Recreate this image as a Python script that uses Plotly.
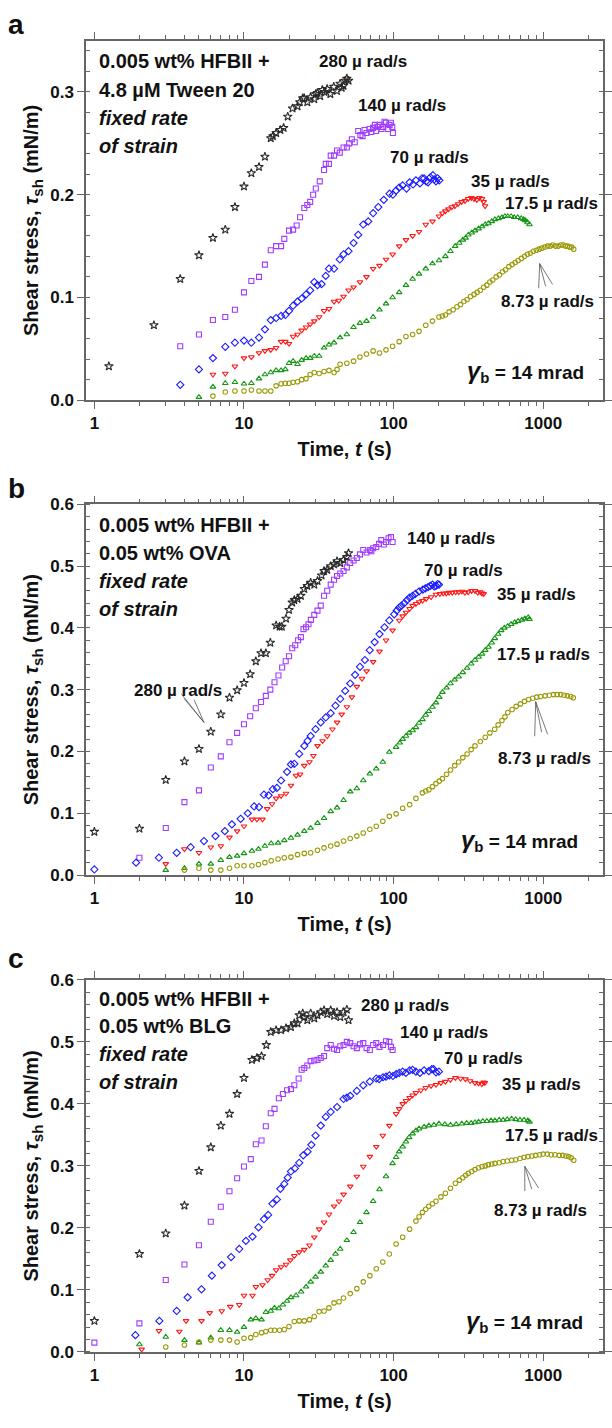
import plotly.graph_objects as go

# ---------------- data (time in s, shear stress in mN/m) ----------------
rates = ["280", "140", "70", "35", "17.5", "8.73"]

# Panel a: 0.005 wt% HFBII + 4.8 uM Tween 20
a280_t = [1.25, 2.5, 3.75, 5.0, 6.2, 7.5, 8.7, 10.0, 11.2, 12.6, 13.8, 15.1, 15.6, 16.4, 17.5, 18.4, 19.6, 21.1, 22.8, 23.6, 24.7, 25.3, 26.5, 27.9, 29.5, 30.2, 31, 32.3, 33.4, 34.5, 36, 37.8, 39.8, 41.8, 43.9, 45, 46.3, 47.5, 48.7, 50]
a280_y = [0.033, 0.073, 0.118, 0.141, 0.158, 0.166, 0.188, 0.208, 0.221, 0.227, 0.237, 0.255, 0.257, 0.260, 0.263, 0.265, 0.276, 0.284, 0.286, 0.290, 0.294, 0.294, 0.290, 0.295, 0.293, 0.298, 0.299, 0.296, 0.302, 0.300, 0.303, 0.298, 0.305, 0.301, 0.308, 0.304, 0.306, 0.311, 0.313, 0.311]
a140_t = [3.75, 5.0, 6.2, 7.5, 8.7, 10, 11.2, 12.6, 13.8, 15.1, 16.4, 17.7, 18.6, 20, 21.3, 22.5, 23.7, 25.3, 26.5, 27.7, 29, 30.2, 32.1, 34.3, 35.2, 37, 38, 40, 41.9, 43.7, 46.3, 48.7, 50.5, 52.6, 55, 58, 60, 62, 64, 65.9, 69, 71, 72.9, 75, 76.5, 78, 80.5, 83, 85, 87, 89, 92, 94, 96, 98, 99]
a140_y = [0.0525, 0.064, 0.078, 0.081, 0.088, 0.105, 0.116, 0.120, 0.132, 0.146, 0.150, 0.150, 0.157, 0.165, 0.166, 0.170, 0.178, 0.187, 0.190, 0.193, 0.200, 0.206, 0.213, 0.224, 0.230, 0.230, 0.238, 0.238, 0.243, 0.241, 0.246, 0.246, 0.250, 0.254, 0.251, 0.262, 0.258, 0.257, 0.263, 0.260, 0.264, 0.261, 0.265, 0.268, 0.262, 0.266, 0.268, 0.264, 0.266, 0.271, 0.270, 0.264, 0.268, 0.270, 0.266, 0.260]
a70_t = [3.75, 5.0, 6.2, 7.5, 8.7, 10, 11.2, 12.6, 13.8, 15.1, 16.4, 17.7, 18.9, 20, 21.3, 22.8, 24.3, 26, 27.7, 29.5, 31, 33, 35.2, 37, 40, 43.7, 46.3, 50, 54, 58, 62.7, 67.7, 73, 79, 86, 94, 99, 104, 109, 115, 122, 128, 135, 141, 150, 155, 160, 165, 170, 176, 183, 187, 192, 197, 202]
a70_y = [0.015, 0.030, 0.041, 0.052, 0.056, 0.058, 0.056, 0.061, 0.069, 0.078, 0.080, 0.082, 0.083, 0.087, 0.092, 0.096, 0.099, 0.103, 0.107, 0.115, 0.112, 0.113, 0.121, 0.128, 0.128, 0.137, 0.142, 0.145, 0.153, 0.161, 0.171, 0.174, 0.182, 0.188, 0.195, 0.201, 0.200, 0.204, 0.207, 0.209, 0.206, 0.212, 0.210, 0.214, 0.211, 0.216, 0.216, 0.213, 0.212, 0.217, 0.219, 0.215, 0.213, 0.216, 0.214]
a35_t = [6.2, 7.5, 8.7, 10, 11.2, 12.6, 13.8, 15.1, 16.4, 17.7, 18.9, 20, 21.3, 22.8, 24.3, 26, 27.7, 29.5, 31.8, 34.3, 37, 40, 43, 46.3, 50, 54, 59.6, 65.9, 73, 80.5, 89, 98.5, 109, 121, 134, 148, 164, 182, 201, 212, 222, 233, 245, 257, 270, 285, 300, 315, 331, 345, 360, 375, 390, 400, 409]
a35_y = [0.025, 0.026, 0.033, 0.041, 0.042, 0.046, 0.048, 0.049, 0.051, 0.057, 0.057, 0.055, 0.062, 0.064, 0.068, 0.071, 0.074, 0.077, 0.081, 0.087, 0.089, 0.096, 0.097, 0.101, 0.107, 0.110, 0.115, 0.120, 0.128, 0.131, 0.137, 0.142, 0.150, 0.156, 0.160, 0.164, 0.171, 0.174, 0.179, 0.182, 0.184, 0.186, 0.188, 0.189, 0.191, 0.193, 0.194, 0.196, 0.197, 0.196, 0.195, 0.197, 0.196, 0.193, 0.189]
a17_t = [5, 6.2, 7.5, 8.7, 10, 11.2, 12.6, 13.8, 15.1, 16.4, 17.7, 18.9, 20, 21.3, 22.8, 24.3, 26, 27.7, 29.5, 31.8, 34.3, 37, 40, 43.9, 48.7, 54, 59.6, 65.9, 73, 80.5, 89, 98.5, 109, 121, 134, 148, 164, 182, 201, 222, 240, 258, 275, 290, 303, 316, 333, 350, 370, 390, 410, 430, 453, 476, 503, 530, 555, 580, 610, 640, 675, 713, 740, 760, 785, 810]
a17_y = [0.003, 0.013, 0.0165, 0.0175, 0.016, 0.0165, 0.021, 0.025, 0.027, 0.029, 0.029, 0.030, 0.036, 0.038, 0.035, 0.039, 0.041, 0.041, 0.043, 0.043, 0.051, 0.054, 0.056, 0.061, 0.064, 0.071, 0.075, 0.077, 0.081, 0.088, 0.094, 0.100, 0.105, 0.112, 0.118, 0.123, 0.128, 0.133, 0.136, 0.140, 0.145, 0.150, 0.153, 0.156, 0.158, 0.161, 0.163, 0.165, 0.167, 0.169, 0.171, 0.172, 0.174, 0.176, 0.177, 0.178, 0.179, 0.179, 0.179, 0.178, 0.178, 0.177, 0.176, 0.175, 0.173, 0.171]
a8_t = [6.2, 7.5, 8.7, 10, 11.2, 12.6, 13.8, 15.1, 16.4, 17.7, 18.9, 20, 21.3, 22.8, 24.3, 26, 27.7, 29.5, 31.8, 34.3, 37, 40, 41.9, 43.9, 48.7, 54, 59.6, 65.9, 73, 80.5, 89, 98.5, 109, 121, 134, 148, 164, 182, 201, 212, 222, 235, 250, 265, 280, 295, 310, 327, 345, 362, 380, 400, 420, 440, 460, 485, 510, 535, 560, 590, 620, 650, 680, 715, 750, 785, 820, 860, 900, 940, 980, 1025, 1070, 1115, 1160, 1210, 1260, 1310, 1360, 1410, 1460, 1500, 1550, 1600]
a8_y = [0.004, 0.008, 0.009, 0.009, 0.010, 0.009, 0.009, 0.009, 0.014, 0.016, 0.0165, 0.0165, 0.0175, 0.018, 0.020, 0.021, 0.025, 0.027, 0.026, 0.028, 0.029, 0.027, 0.030, 0.035, 0.036, 0.038, 0.042, 0.045, 0.048, 0.046, 0.049, 0.0525, 0.057, 0.062, 0.064, 0.067, 0.073, 0.077, 0.081, 0.082, 0.083, 0.086, 0.088, 0.091, 0.093, 0.096, 0.098, 0.101, 0.103, 0.105, 0.107, 0.110, 0.112, 0.115, 0.117, 0.120, 0.122, 0.125, 0.127, 0.130, 0.132, 0.134, 0.136, 0.138, 0.140, 0.142, 0.143, 0.145, 0.146, 0.147, 0.148, 0.149, 0.150, 0.150, 0.151, 0.150, 0.150, 0.151, 0.151, 0.150, 0.150, 0.149, 0.149, 0.147]

# Panel b: 0.005 wt% HFBII + 0.05 wt% OVA
b280_t = [1, 2, 3, 4, 5, 6, 7, 8, 9, 10, 11, 12, 13, 14, 15, 16.4, 17.3, 17.9, 19.1, 20, 21, 21.7, 22.8, 24, 25.3, 26.5, 27.9, 29.5, 31, 33, 34.3, 36, 38, 40, 41.9, 44, 46.3, 48.7, 50]
b280_y = [0.070, 0.075, 0.154, 0.184, 0.204, 0.232, 0.260, 0.287, 0.299, 0.311, 0.325, 0.346, 0.359, 0.359, 0.376, 0.404, 0.402, 0.402, 0.415, 0.429, 0.441, 0.445, 0.447, 0.452, 0.463, 0.468, 0.473, 0.470, 0.476, 0.485, 0.492, 0.494, 0.500, 0.503, 0.508, 0.505, 0.510, 0.515, 0.521]
b140_t = [2, 3, 4, 5, 6, 7, 8, 9, 10, 11, 12, 13, 14, 15, 16, 17, 18, 19, 20, 21, 22, 23, 24, 25, 26, 27, 28, 29.5, 31, 32.6, 34.3, 36, 38, 40, 41.9, 44, 46.3, 48.7, 51.3, 54, 56.8, 59.6, 62.7, 66, 69.4, 71, 73, 76.6, 80, 82.7, 86, 89, 92.5, 96, 98.5]
b140_y = [0.028, 0.076, 0.118, 0.137, 0.174, 0.192, 0.215, 0.230, 0.244, 0.257, 0.270, 0.280, 0.290, 0.300, 0.312, 0.323, 0.336, 0.346, 0.354, 0.367, 0.372, 0.380, 0.385, 0.398, 0.401, 0.406, 0.413, 0.421, 0.428, 0.436, 0.452, 0.460, 0.470, 0.478, 0.484, 0.488, 0.492, 0.498, 0.505, 0.509, 0.513, 0.519, 0.526, 0.522, 0.526, 0.524, 0.529, 0.531, 0.536, 0.542, 0.535, 0.539, 0.545, 0.547, 0.539]
b70_t = [1, 1.9, 2.7, 3.55, 4.4, 5.4, 6.45, 7.45, 8.3, 9.5, 10.6, 11.7, 12.6, 13.6, 14.6, 15.6, 16.6, 17.7, 19.4, 20.6, 21.7, 23.4, 25.3, 26.6, 27.9, 30.1, 32.6, 35.2, 38, 40.9, 44, 47.5, 51.3, 55.3, 59.6, 64.3, 69.3, 74.7, 80.5, 86.9, 93.7, 101, 105, 109, 113, 118, 123, 128, 134, 140, 148, 157, 163, 170, 176, 182, 187, 192, 197, 201]
b70_y = [0.009, 0.020, 0.028, 0.036, 0.045, 0.055, 0.063, 0.071, 0.082, 0.091, 0.100, 0.111, 0.110, 0.130, 0.129, 0.139, 0.141, 0.153, 0.167, 0.179, 0.180, 0.196, 0.209, 0.217, 0.225, 0.236, 0.247, 0.255, 0.262, 0.274, 0.285, 0.298, 0.310, 0.324, 0.337, 0.348, 0.364, 0.377, 0.390, 0.401, 0.412, 0.422, 0.428, 0.433, 0.436, 0.440, 0.445, 0.449, 0.452, 0.455, 0.459, 0.462, 0.464, 0.466, 0.468, 0.470, 0.467, 0.468, 0.471, 0.470]
b35_t = [3, 4, 5, 6, 7, 8, 9, 10, 11.3, 12.2, 13.3, 14.3, 15.4, 16.4, 17.7, 19.1, 20.6, 22.3, 23.7, 25.3, 27.4, 29.1, 31, 33.5, 36, 39, 41.9, 45, 48.7, 52.6, 56.8, 61.5, 66, 73, 80.5, 89, 98.5, 109, 115, 121, 128, 134, 141, 148, 156, 165, 178, 192, 204, 215, 225, 235, 247, 260, 273, 286, 300, 315, 332, 350, 365, 380, 390, 400]
b35_y = [0.018, 0.042, 0.036, 0.045, 0.047, 0.061, 0.071, 0.079, 0.090, 0.090, 0.090, 0.107, 0.115, 0.124, 0.128, 0.132, 0.145, 0.161, 0.163, 0.177, 0.183, 0.193, 0.209, 0.217, 0.225, 0.236, 0.247, 0.260, 0.272, 0.288, 0.305, 0.318, 0.330, 0.345, 0.362, 0.380, 0.396, 0.412, 0.419, 0.425, 0.431, 0.436, 0.439, 0.442, 0.444, 0.447, 0.450, 0.454, 0.455, 0.456, 0.456, 0.457, 0.457, 0.458, 0.458, 0.459, 0.457, 0.458, 0.460, 0.460, 0.457, 0.458, 0.456, 0.455]
b17_t = [3, 4, 5, 6, 7, 8, 9, 10, 11.3, 12.5, 13.8, 15.2, 16.9, 18.6, 20.6, 22.8, 25.3, 27.9, 31, 34.3, 38, 41.9, 46.3, 51.3, 56.8, 62.7, 69.4, 76.6, 84.7, 93.7, 104, 110, 115, 121, 127, 134, 141, 148, 156, 164, 172, 182, 192, 202, 212, 226, 240, 256, 272, 290, 310, 330, 350, 370, 390, 410, 431, 453, 475, 500, 524, 550, 580, 610, 645, 680, 720, 755, 794, 810]
b17_y = [0.008, 0.011, 0.018, 0.018, 0.024, 0.029, 0.031, 0.035, 0.039, 0.042, 0.047, 0.051, 0.052, 0.056, 0.060, 0.065, 0.071, 0.076, 0.084, 0.092, 0.103, 0.109, 0.121, 0.135, 0.140, 0.153, 0.164, 0.172, 0.183, 0.199, 0.207, 0.214, 0.220, 0.225, 0.230, 0.234, 0.239, 0.246, 0.252, 0.259, 0.265, 0.272, 0.279, 0.288, 0.296, 0.303, 0.310, 0.316, 0.321, 0.328, 0.335, 0.342, 0.348, 0.353, 0.358, 0.364, 0.369, 0.376, 0.383, 0.390, 0.396, 0.400, 0.403, 0.406, 0.409, 0.411, 0.413, 0.415, 0.417, 0.414]
b8_t = [4, 5, 6, 7, 8, 9, 10, 11.3, 12.5, 13.8, 15.2, 16.9, 18.6, 20.6, 22.8, 25.3, 27.9, 31, 34.3, 38, 41.9, 46.3, 51.3, 56.8, 62.7, 69.4, 76.6, 84.7, 93.7, 104, 115, 128, 141, 156, 164, 172, 182, 192, 202, 212, 226, 240, 256, 272, 290, 310, 330, 350, 380, 410, 440, 474, 500, 530, 555, 580, 620, 660, 705, 750, 800, 850, 905, 960, 1030, 1100, 1170, 1240, 1310, 1380, 1450, 1530, 1590]
b8_y = [0.008, 0.011, 0.008, 0.008, 0.011, 0.015, 0.015, 0.015, 0.017, 0.020, 0.023, 0.026, 0.028, 0.029, 0.033, 0.035, 0.036, 0.040, 0.044, 0.047, 0.050, 0.055, 0.059, 0.063, 0.068, 0.074, 0.079, 0.087, 0.095, 0.099, 0.108, 0.114, 0.124, 0.133, 0.136, 0.138, 0.143, 0.148, 0.152, 0.156, 0.163, 0.170, 0.177, 0.183, 0.190, 0.196, 0.203, 0.209, 0.216, 0.223, 0.230, 0.236, 0.243, 0.250, 0.256, 0.263, 0.268, 0.273, 0.277, 0.281, 0.284, 0.286, 0.288, 0.289, 0.290, 0.291, 0.292, 0.292, 0.292, 0.291, 0.290, 0.289, 0.287]

# Panel c: 0.005 wt% HFBII + 0.05 wt% BLG
c280_t = [1, 2, 3, 4, 5, 6, 7, 8, 9, 10, 11.3, 12.2, 13.1, 14.1, 15.1, 16.4, 17.7, 19.1, 20.6, 21.7, 22.8, 23.4, 24.7, 25.3, 26.5, 27.9, 29.5, 31, 32.6, 34.3, 36, 38, 40, 41.9, 44, 46.3, 48.7, 50]
c280_y = [0.050, 0.158, 0.191, 0.236, 0.292, 0.330, 0.365, 0.384, 0.416, 0.442, 0.471, 0.474, 0.477, 0.495, 0.516, 0.519, 0.519, 0.522, 0.524, 0.530, 0.530, 0.543, 0.546, 0.540, 0.535, 0.546, 0.538, 0.543, 0.548, 0.551, 0.545, 0.551, 0.542, 0.548, 0.540, 0.548, 0.552, 0.535]
c140_t = [1, 2, 3, 4, 5, 6, 7, 8, 9, 10, 11.1, 12, 13.1, 14, 15.1, 16, 17.1, 18.2, 19.4, 20.6, 21.7, 23.2, 24.3, 25.3, 26.5, 27.9, 29.5, 31, 32.6, 34.3, 36, 38, 40, 41.9, 44, 46.3, 48.7, 51.3, 54, 56.8, 59.6, 62.7, 66, 69.4, 73, 76.6, 80.5, 85, 89, 93.7, 96, 98.5]
c140_y = [0.015, 0.046, 0.116, 0.141, 0.172, 0.210, 0.234, 0.259, 0.280, 0.299, 0.311, 0.335, 0.341, 0.364, 0.385, 0.392, 0.409, 0.416, 0.422, 0.424, 0.430, 0.441, 0.455, 0.458, 0.462, 0.469, 0.470, 0.471, 0.474, 0.477, 0.490, 0.495, 0.489, 0.487, 0.493, 0.495, 0.500, 0.498, 0.493, 0.490, 0.496, 0.498, 0.490, 0.487, 0.495, 0.498, 0.492, 0.495, 0.501, 0.500, 0.492, 0.487]
c70_t = [1.88, 2.72, 3.55, 4.2, 5.2, 6.1, 7.1, 8.2, 9.3, 10.3, 11.4, 12.5, 13.6, 14.5, 15.5, 16.6, 17.5, 18.6, 19.6, 20.6, 21.9, 23.4, 24.9, 26.6, 28.2, 30.1, 32.6, 35.2, 38, 41.9, 46.3, 48.7, 51.3, 56.8, 62.7, 69.4, 76.6, 80, 85, 89, 93.7, 99, 104, 109, 115, 121, 128, 134, 141, 150, 160, 172, 180, 185, 192, 201]
c70_y = [0.027, 0.050, 0.066, 0.088, 0.101, 0.123, 0.140, 0.153, 0.166, 0.179, 0.186, 0.201, 0.214, 0.221, 0.239, 0.246, 0.263, 0.271, 0.281, 0.291, 0.296, 0.305, 0.317, 0.323, 0.334, 0.349, 0.365, 0.379, 0.387, 0.395, 0.408, 0.410, 0.413, 0.421, 0.430, 0.436, 0.441, 0.440, 0.443, 0.444, 0.446, 0.445, 0.448, 0.450, 0.452, 0.450, 0.454, 0.455, 0.452, 0.450, 0.454, 0.453, 0.456, 0.456, 0.451, 0.452]
c35_t = [2.07, 2.7, 3.7, 4.1, 5.2, 5.9, 7.1, 8.1, 9.3, 10, 11.4, 12, 13.3, 14.4, 15.4, 16.4, 17.7, 19.1, 20.4, 21.7, 23.4, 25.3, 27.4, 29.5, 31.8, 34.3, 37, 40, 43.2, 46.3, 51.3, 56.8, 62.7, 69.4, 76.6, 84.7, 93.7, 104, 109, 115, 121, 128, 134, 141, 152, 164, 178, 192, 207, 222, 240, 259, 280, 302, 325, 350, 370, 389, 400, 407]
c35_y = [0.004, 0.034, 0.033, 0.050, 0.050, 0.063, 0.066, 0.073, 0.076, 0.091, 0.091, 0.105, 0.108, 0.116, 0.123, 0.132, 0.137, 0.141, 0.148, 0.155, 0.161, 0.165, 0.172, 0.185, 0.198, 0.209, 0.222, 0.235, 0.243, 0.254, 0.267, 0.283, 0.299, 0.315, 0.331, 0.349, 0.365, 0.384, 0.392, 0.400, 0.405, 0.410, 0.414, 0.418, 0.422, 0.426, 0.429, 0.431, 0.434, 0.436, 0.439, 0.442, 0.441, 0.440, 0.437, 0.434, 0.433, 0.432, 0.435, 0.434]
c17_t = [2, 3, 4, 5, 6, 7, 8, 9, 10, 11.1, 12, 13.1, 14, 15.1, 16, 17.1, 18.2, 19.4, 20.6, 22.3, 24.1, 26, 27.9, 30.1, 32.6, 35.2, 38, 40.9, 44, 48.7, 54, 59.6, 65.9, 73, 80.5, 89, 98.5, 104, 109, 115, 121, 127, 134, 141, 148, 160, 172, 186, 201, 220, 240, 262, 286, 308, 330, 350, 370, 395, 420, 448, 476, 508, 540, 575, 615, 655, 700, 745, 790, 810]
c17_y = [0.012, 0.024, 0.019, 0.015, 0.023, 0.035, 0.035, 0.032, 0.040, 0.052, 0.054, 0.052, 0.064, 0.066, 0.071, 0.070, 0.076, 0.082, 0.088, 0.091, 0.097, 0.105, 0.113, 0.121, 0.129, 0.139, 0.148, 0.158, 0.166, 0.180, 0.193, 0.209, 0.225, 0.243, 0.262, 0.283, 0.304, 0.314, 0.323, 0.331, 0.339, 0.346, 0.352, 0.357, 0.360, 0.363, 0.365, 0.366, 0.368, 0.367, 0.366, 0.367, 0.368, 0.369, 0.369, 0.370, 0.371, 0.372, 0.372, 0.373, 0.373, 0.374, 0.374, 0.375, 0.376, 0.375, 0.374, 0.374, 0.373, 0.371]
c8_t = [3, 4, 5, 6, 7, 8, 9, 10, 11.1, 12, 13.1, 14, 15.1, 16, 17.3, 18.6, 20, 21.7, 23.4, 25.3, 27.4, 29.5, 31.8, 34.3, 37, 40, 43.2, 46.3, 51.3, 56.8, 62.7, 69.4, 76.6, 84.7, 93.7, 104, 115, 128, 141, 148, 156, 164, 172, 182, 192, 207, 222, 240, 259, 275, 290, 303, 316, 333, 350, 370, 390, 410, 430, 453, 476, 508, 540, 575, 615, 655, 700, 745, 790, 840, 890, 945, 1000, 1065, 1130, 1200, 1280, 1350, 1420, 1480, 1540, 1600]
c8_y = [0.008, 0.011, 0.016, 0.019, 0.019, 0.019, 0.016, 0.022, 0.023, 0.028, 0.031, 0.033, 0.035, 0.035, 0.035, 0.036, 0.041, 0.049, 0.050, 0.050, 0.052, 0.057, 0.065, 0.066, 0.071, 0.079, 0.081, 0.087, 0.094, 0.102, 0.113, 0.123, 0.134, 0.145, 0.158, 0.174, 0.185, 0.198, 0.211, 0.218, 0.225, 0.230, 0.235, 0.239, 0.243, 0.250, 0.256, 0.264, 0.272, 0.277, 0.281, 0.285, 0.288, 0.291, 0.294, 0.297, 0.299, 0.300, 0.302, 0.303, 0.304, 0.305, 0.307, 0.308, 0.309, 0.310, 0.312, 0.314, 0.315, 0.316, 0.317, 0.318, 0.319, 0.319, 0.318, 0.318, 0.317, 0.317, 0.316, 0.315, 0.313, 0.309]

panels = [
    [(a280_t, a280_y), (a140_t, a140_y), (a70_t, a70_y), (a35_t, a35_y), (a17_t, a17_y), (a8_t, a8_y)],
    [(b280_t, b280_y), (b140_t, b140_y), (b70_t, b70_y), (b35_t, b35_y), (b17_t, b17_y), (b8_t, b8_y)],
    [(c280_t, c280_y), (c140_t, c140_y), (c70_t, c70_y), (c35_t, c35_y), (c17_t, c17_y), (c8_t, c8_y)],
]
y_max = [0.35, 0.6, 0.6]
x_minor = [2, 3, 4, 5, 6, 7, 8, 9, 20, 30, 40, 50, 60, 70, 80, 90,
           200, 300, 400, 500, 600, 700, 800, 900, 2000]

# ---------------- styles ----------------
W, H = 612, 1428
FONT = "Liberation Sans, Arial, Helvetica, sans-serif"
AX = "#666666"
symbols = ["star-open", "square-open", "diamond-open", "triangle-down-open", "triangle-up-open", "circle-open"]
colors = ["#2a2a2a", "#A03CFF", "#1A1AFF", "#FF1A1A", "#149614", "#9A9A0A"]
sizes = [6.5, 5, 5.5, 5, 5, 4.5]


def px(x):
    return x / W


def py(y):
    return 1 - y / H


x_dom = [px(87), px(609)]
y_doms = [[py(396.5), py(32)], [py(877.7), py(502)], [py(1361), py(984)]]

fig = go.Figure()
for i, series in enumerate(panels):
    xa = "x" if i == 0 else f"x{i+1}"
    ya = "y" if i == 0 else f"y{i+1}"
    for j, (t, v) in enumerate(series):
        fig.add_trace(go.Scatter(
            x=t, y=v, mode="markers", xaxis=xa, yaxis=ya, showlegend=False,
            cliponaxis=False, name=rates[j] + " µrad/s",
            marker=dict(symbol=symbols[j], color=colors[j], size=sizes[j],
                        line=dict(width=1.1, color=colors[j]))))

# pointer lines of the rate labels, drawn on an invisible full-page pixel overlay axis
pointers = [
    ((545, 258), [(544, 283), (551, 281), (558, 279)]),
    ((206, 723), [(183, 694), (186, 699), (196, 700)]),
    ((541, 702), [(540, 737), (547, 733), (553, 735)]),
    ((530, 1173), [(530, 1198), (537, 1196), (544, 1195)]),
]
lx, ly = [], []
for (ax_, ay_), ends in pointers:
    for (ex, ey) in ends:
        lx += [ax_, ex, None]
        ly += [ay_, ey, None]
fig.add_trace(go.Scatter(x=lx, y=ly, mode="lines", xaxis="x4", yaxis="y4",
                         showlegend=False, hoverinfo="skip",
                         line=dict(color="#555", width=0.8)))

tick_font = dict(family=FONT, size=17, color="#111", weight="bold")
title_font = dict(family=FONT, size=20, color="#111", weight="bold")

x_title = "Time, <span style='font-style:italic;font-size:20px'>t</span> (s)"
y_title = ("Shear stress, <span style='font-style:italic;font-size:20px'>τ</span>"
           "<sub><span style='font-size:15px'>sh</span></sub> (mN/m)")

layout = dict(width=W, height=H, margin=dict(l=0, r=0, t=0, b=0),
              paper_bgcolor="white", plot_bgcolor="rgba(0,0,0,0)", showlegend=False)
for i in range(3):
    sx = "" if i == 0 else str(i + 1)
    layout["xaxis" + sx] = dict(
        type="log", range=[-0.055, 3.40], domain=x_dom,
        anchor="y" + sx, tick0=0, dtick=1, tickformat="d",
        ticks="outside", ticklen=7, tickwidth=1.2, tickcolor=AX,
        showline=True, linecolor=AX, linewidth=1.5, mirror="allticks",
        showgrid=False, zeroline=False, tickfont=tick_font,
        minor=dict(tickvals=x_minor, ticks="outside", ticklen=4, tickcolor=AX, tickwidth=1, showgrid=False),
        title=dict(text=x_title, font=title_font, standoff=10))
    layout["yaxis" + sx] = dict(
        range=[0, y_max[i]], domain=y_doms[i], anchor="x" + sx,
        dtick=0.1, tick0=0, tickformat=".1f",
        ticks="outside", ticklen=7, tickwidth=1.2, tickcolor=AX,
        showline=True, linecolor=AX, linewidth=1.5, mirror="allticks",
        showgrid=False, zeroline=False, tickfont=tick_font,
        minor=dict(dtick=0.02, ticks="inside", ticklen=4, tickcolor=AX, tickwidth=1, showgrid=False),
        title=dict(text=y_title, font=title_font, standoff=6))
layout["xaxis4"] = dict(domain=[0, 1], range=[0, W], anchor="y4", visible=False, fixedrange=True)
layout["yaxis4"] = dict(domain=[0, 1], range=[H, 0], anchor="x4", visible=False, fixedrange=True)
fig.update_layout(**layout)

ann = []


def text(x, y, s, size=15, xanchor="center", style="normal"):
    ann.append(dict(x=px(x), y=py(y), xref="paper", yref="paper", text=s, showarrow=False,
                    xanchor=xanchor, yanchor="middle",
                    font=dict(family=FONT, size=size, color="#111", weight="bold", style=style)))


# panel letters
text(6, 16, "a", size=28, xanchor="left")
text(6, 486, "b", size=28, xanchor="left")
text(6, 962, "c", size=28, xanchor="left")

# description boxes
desc = [
    ("0.005 wt% HFBII +", "4.8 µM Tween 20", 53, 28.7),
    ("0.005 wt% HFBII +", "0.05 wt% OVA", 523, 28.5),
    ("0.005 wt% HFBII +", "0.05 wt% BLG", 1003, 28),
]
for l1, l2, y0, dy in desc:
    text(98, y0, l1, size=20, xanchor="left")
    text(98, y0 + dy, l2, size=20, xanchor="left")
    text(98, y0 + 2 * dy, "fixed rate", size=20, xanchor="left", style="italic")
    text(98, y0 + 3 * dy, "of strain", size=20, xanchor="left", style="italic")

# rate labels (center x, center y in px)
labels = [
    [(367, 53), (406, 98), (434, 151), (516, 175), (557, 197), (553, 296)],
    [(180, 691), (455, 537), (468, 569), (542, 593), (549, 654), (550, 760)],
    [(409, 1010), (448, 1037), (488, 1064), (547, 1090), (557, 1142), (546, 1218)],
]
for lab in labels:
    for j, (x, y) in enumerate(lab):
        text(x, y, rates[j] + " µ rad/s", size=17)

# gamma_b labels
for (x, y) in [(531, 367), (525, 843), (530, 1330)]:
    text(x, y, "<span style='font-size:24px;font-style:italic'>γ</span>"
               "<sub><span style='font-size:15px'>b</span></sub> = 14 mrad", size=19)

fig.update_layout(annotations=ann)

fig.write_html("out.html")
